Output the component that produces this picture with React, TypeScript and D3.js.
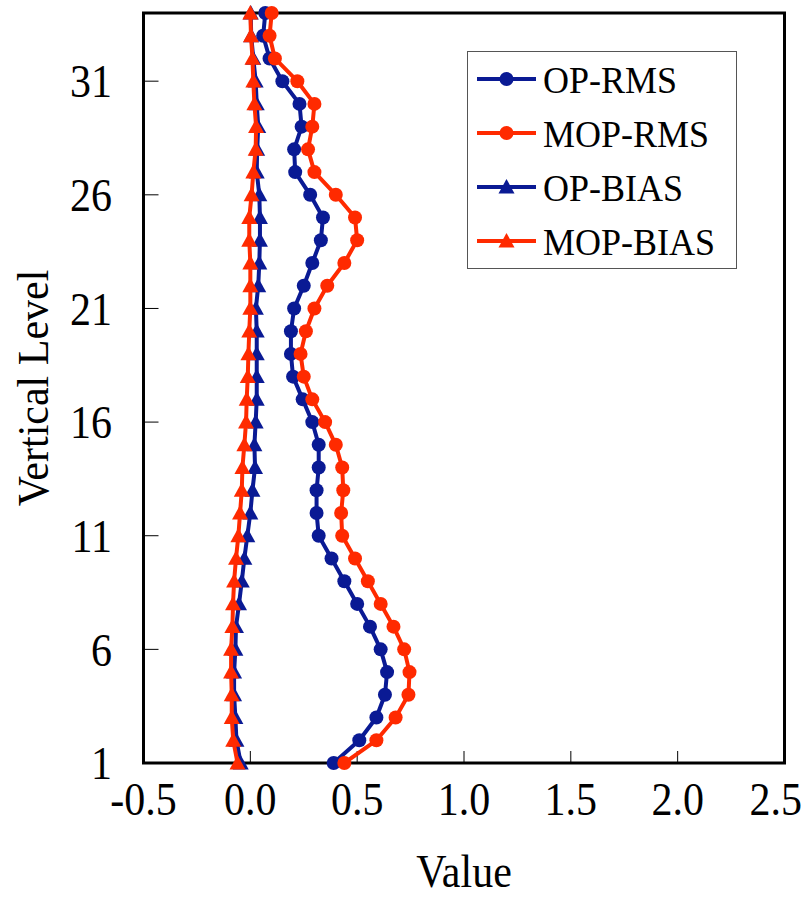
import * as d3 from 'd3'

const levels = [1, 2, 3, 4, 5, 6, 7, 8, 9, 10, 11, 12, 13, 14, 15, 16, 17, 18, 19, 20, 21, 22, 23, 24, 25, 26, 27, 28, 29, 30, 31, 32, 33, 34]

const opRms = [0.39, 0.51, 0.59, 0.63, 0.64, 0.61, 0.56, 0.5, 0.44, 0.38, 0.32, 0.31, 0.31, 0.32, 0.32, 0.29, 0.245, 0.2, 0.19, 0.19, 0.205, 0.25, 0.29, 0.33, 0.34, 0.28, 0.21, 0.205, 0.24, 0.23, 0.15, 0.09, 0.06, 0.07]
const mopRms = [0.44, 0.59, 0.68, 0.74, 0.745, 0.72, 0.67, 0.61, 0.55, 0.49, 0.43, 0.425, 0.435, 0.43, 0.4, 0.35, 0.29, 0.25, 0.235, 0.26, 0.3, 0.36, 0.44, 0.5, 0.49, 0.4, 0.3, 0.27, 0.29, 0.3, 0.22, 0.115, 0.09, 0.1]
const opBias = [-0.045, -0.065, -0.07, -0.076, -0.076, -0.07, -0.067, -0.053, -0.04, -0.028, -0.014, 0.0, 0.01, 0.022, 0.019, 0.025, 0.03, 0.03, 0.03, 0.03, 0.026, 0.037, 0.042, 0.045, 0.045, 0.042, 0.03, 0.032, 0.037, 0.03, 0.025, 0.014, 0.004, 0.002]
const mopBias = [-0.06, -0.08, -0.087, -0.087, -0.09, -0.09, -0.084, -0.081, -0.076, -0.067, -0.056, -0.048, -0.04, -0.037, -0.028, -0.02, -0.017, -0.012, -0.009, -0.005, 0.0, 0.0, 0.0, -0.005, -0.005, 0.006, 0.014, 0.025, 0.027, 0.019, 0.014, 0.01, 0.003, 0.0]

const xTicks = [-0.5, 0, 0.5, 1, 1.5, 2, 2.5]
const yTicks = [1, 6, 11, 16, 21, 26, 31]

const BLUE = '#0a1a94'
const RED = '#ff2a00'
const FONT = '"Liberation Serif", "Times New Roman", serif'

const series = [
  { name: 'OP-RMS', values: opRms, color: BLUE, marker: 'circle' },
  { name: 'MOP-RMS', values: mopRms, color: RED, marker: 'circle' },
  { name: 'OP-BIAS', values: opBias, color: BLUE, marker: 'triangle' },
  { name: 'MOP-BIAS', values: mopBias, color: RED, marker: 'triangle' },
]

function Marker({ type, x, y, color }: { type: string; x: number; y: number; color: string }) {
  if (type === 'circle') return <circle cx={x} cy={y} r={7} fill={color} />
  const s = 8
  return <path d={`M${x},${y - s} L${x + s},${y + s * 0.8} L${x - s},${y + s * 0.8} Z`} fill={color} />
}

// tick labels use a plain hyphen, like the original
const fmt = (t: number) => d3.format('.1f')(t).replace('\u2212', '-')

export default function App() {
  const width = 805
  const height = 897
  const left = 143.5, right = 784.5, top = 13, bottom = 763

  const x = d3.scaleLinear().domain([-0.5, 2.5]).range([left, right])
  const y = d3.scaleLinear().domain([1, 34]).range([bottom, top])

  const line = d3.line<[number, number]>().x(d => x(d[0])).y(d => y(d[1]))

  return (
    <svg width={width} height={height} style={{ position: 'absolute', left: 0, top: 0, background: '#fff' }} fontFamily={FONT}>
      <rect width={width} height={height} fill="#fff" />

      {/* ticks */}
      {yTicks.map(t => (
        <g key={'y' + t}>
          <line x1={left} x2={left + 15} y1={y(t)} y2={y(t)} stroke="#000" strokeWidth={1} />
          <text transform={`translate(112,${y(t)}) scale(1,1.1)`} dy="0.35em" textAnchor="end" fontSize={42}>{t}</text>
        </g>
      ))}
      {xTicks.map((t, i) => {
        const last = i === xTicks.length - 1
        return (
          <g key={'x' + t}>
            <line x1={x(t)} x2={x(t)} y1={bottom} y2={bottom - 12} stroke="#000" strokeWidth={1} />
            <text transform={`translate(${last ? 802 : x(t)},815) scale(1,1.1)`} textAnchor={last ? 'end' : 'middle'} fontSize={42}>{fmt(t)}</text>
          </g>
        )
      })}

      {/* frame */}
      <rect x={left} y={top} width={right - left} height={bottom - top} fill="none" stroke="#000" strokeWidth={3} />

      {/* series */}
      {series.map(s => {
        const pts = s.values.map((v, i) => [v, levels[i]] as [number, number])
        return (
          <g key={s.name}>
            <path d={line(pts) ?? ''} fill="none" stroke={s.color} strokeWidth={4} strokeLinejoin="round" />
            {pts.map((p, i) => <Marker key={i} type={s.marker} x={x(p[0])} y={y(p[1])} color={s.color} />)}
          </g>
        )
      })}

      {/* legend */}
      <rect x={467.5} y={51.5} width={269} height={217} fill="#fff" stroke="#555" strokeWidth={1} />
      {series.map((s, i) => {
        const ly = 79 + i * 54
        return (
          <g key={'leg' + s.name}>
            <line x1={477} x2={536} y1={ly} y2={ly} stroke={s.color} strokeWidth={4} />
            <Marker type={s.marker} x={506.5} y={ly} color={s.color} />
            <text transform={`translate(543,${ly}) scale(1,1.08)`} dy="0.35em" fontSize={36}>{s.name}</text>
          </g>
        )
      })}

      {/* axis titles */}
      <text transform={`translate(${(left + right) / 2},887) scale(1,1.1)`} textAnchor="middle" fontSize={42}>Value</text>
      <text transform={`translate(48,${(top + bottom) / 2}) rotate(-90) scale(1,1.05)`} textAnchor="middle" fontSize={42}>Vertical Level</text>
    </svg>
  )
}
